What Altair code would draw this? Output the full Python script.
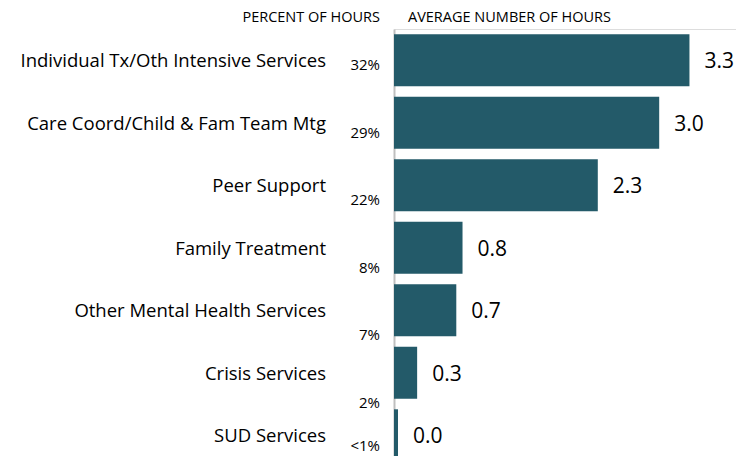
import altair as alt
import pandas as pd

categories = [
    "Individual Tx/Oth Intensive Services",
    "Care Coord/Child & Fam Team Mtg",
    "Peer Support",
    "Family Treatment",
    "Other Mental Health Services",
    "Crisis Services",
    "SUD Services",
]
avg_hours = [3.32, 2.98, 2.29, 0.77, 0.70, 0.26, 0.045]
pct_labels = ["32%", "29%", "22%", "8%", "7%", "2%", "<1%"]

df = pd.DataFrame({"cat": categories, "hours": avg_hours, "pct": pct_labels})

FONT = "Open Sans"
BAR = "#235A69"
INK = "#000000"

y_scale = alt.Scale(range=[0, 437.5], paddingInner=0.17, paddingOuter=0.085)
y_axis = alt.Y("cat:N", sort=categories, scale=y_scale,
               axis=alt.Axis(labels=False, ticks=False, title=None, domain=True,
                             domainColor="#BFBFBF", domainWidth=2))
y_plain = alt.Y("cat:N", sort=categories, scale=y_scale, axis=None)
x = alt.X("hours:Q", scale=alt.Scale(domain=[0, 3.843], nice=False, zero=True),
          axis=None)

base = alt.Chart(df)

bars = base.mark_bar(color=BAR).encode(x=x, y=y_axis)

values = base.mark_text(align="left", baseline="middle", dx=15, dy=2,
                        fontSize=21, font=FONT, color=INK).encode(
    x=x, y=y_plain, text=alt.Text("hours:Q", format=".1f"))

cats = base.mark_text(align="right", baseline="middle", dy=1, fontSize=18.5,
                      font=FONT, color=INK).encode(
    x=alt.value(-68), y=y_plain, text="cat:N")

# percent column: its own row grid (taller rows than the bars)
pct_main = categories[:-1]
pct_last = categories[-1:]
pcts = base.transform_filter(
    alt.FieldOneOfPredicate(field="cat", oneOf=pct_main)
).mark_text(align="right", baseline="middle", fontSize=15,
            font=FONT, color=INK).encode(
    x=alt.value(-14),
    y=alt.Y("cat:N", sort=pct_main,
            scale=alt.Scale(type="point", range=[36, 374], padding=0), axis=None),
    text="pct:N")
pcts_end = base.transform_filter(
    alt.FieldOneOfPredicate(field="cat", oneOf=pct_last)
).mark_text(align="right", baseline="middle", fontSize=15,
            font=FONT, color=INK).encode(
    x=alt.value(-14),
    y=alt.Y("cat:N", sort=pct_last,
            scale=alt.Scale(type="point", range=[417, 417], padding=0), axis=None),
    text="pct:N")

hdr_data = alt.Data(values=[{"a": 1}])
hdr1 = alt.Chart(hdr_data).mark_text(align="right", baseline="middle",
                                     fontSize=14.5, font=FONT, color=INK).encode(
    x=alt.value(-14), y=alt.value(-11), text=alt.value("PERCENT OF HOURS"))
hdr2 = alt.Chart(hdr_data).mark_text(align="left", baseline="middle",
                                     fontSize=14.5, font=FONT, color=INK).encode(
    x=alt.value(14), y=alt.value(-11), text=alt.value("AVERAGE NUMBER OF HOURS"))

chart = alt.layer(bars, values, cats, pcts, pcts_end, hdr1, hdr2).resolve_scale(
    y="independent"
).properties(
    width=342, height=427,
    autosize=alt.AutoSizeParams(type="none"),
    padding={"left": 386, "top": 21, "right": 0, "bottom": 0},
).configure_view(stroke=None).configure(background="white")

chart.save("out.html", embed_options={"renderer": "svg", "actions": False})
